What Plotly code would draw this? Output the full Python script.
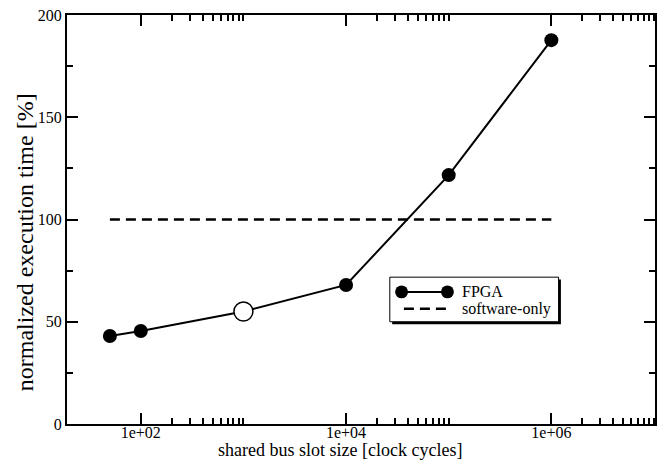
import plotly.graph_objects as go
import numpy as np

# data
slot_size = [50, 100, 1000, 10000, 100000, 1000000]
fpga_time = [43, 45.5, 55, 68, 121.7, 187.7]
open_index = 2  # highlighted (open) point
sw_x = [50, 1000000]
sw_y = [100, 100]

major_ticks = [1e2, 1e4, 1e6]
major_labels = ["1e+02", "1e+04", "1e+06"]
minor_ticks = [n * 10 ** e for e in (2, 4, 6) for n in range(2, 11)]
y_ticks = [0, 50, 100, 150, 200]
y_minor = [25, 75, 125, 175]

FONT = "Liberation Serif"

fig = go.Figure()
fig.add_trace(go.Scatter(x=sw_x, y=sw_y, mode="lines",
                         line=dict(color="black", width=2.5, dash="10px,6px"),
                         showlegend=False, hoverinfo="skip"))
fig.add_trace(go.Scatter(x=slot_size, y=fpga_time, mode="lines",
                         line=dict(color="black", width=2),
                         showlegend=False, hoverinfo="skip"))
filled_x = [v for i, v in enumerate(slot_size) if i != open_index]
filled_y = [v for i, v in enumerate(fpga_time) if i != open_index]
fig.add_trace(go.Scatter(x=filled_x, y=filled_y, mode="markers",
                         marker=dict(color="black", size=14, line=dict(width=0)),
                         showlegend=False))
fig.add_trace(go.Scatter(x=[slot_size[open_index]], y=[fpga_time[open_index]],
                         mode="markers",
                         marker=dict(color="white", size=19, line=dict(color="black", width=1.5)),
                         showlegend=False))

axis_common = dict(showline=True, linecolor="black", linewidth=2, mirror="ticks",
                   ticks="inside", ticklen=11, tickwidth=1.5, tickcolor="black",
                   showgrid=False, zeroline=False,
                   tickfont=dict(family=FONT, size=16, color="black"))

fig.update_xaxes(type="log", range=[np.log10(19.1), 7.01],
                 tickmode="array", tickvals=major_ticks, ticktext=major_labels,
                 ticklabelstandoff=-7,
                 minor=dict(tickmode="array", tickvals=minor_ticks, ticks="inside",
                            ticklen=6, tickwidth=1.5, tickcolor="black", showgrid=False),
                 **axis_common)
fig.update_yaxes(range=[0, 200], tickmode="array", tickvals=y_ticks,
                 minor=dict(tickmode="array", tickvals=y_minor, ticks="inside",
                            ticklen=6, tickwidth=1.5, tickcolor="black", showgrid=False),
                 **axis_common)

# axis titles
fig.add_annotation(text="shared bus slot size [clock cycles]", xref="paper", yref="paper",
                   x=0.465, y=-0.093, xanchor="center", yanchor="bottom", showarrow=False,
                   font=dict(family=FONT, size=18, color="black"))
fig.add_annotation(text="normalized execution time [%]", xref="paper", yref="paper",
                   x=-0.071, y=0.445, xanchor="center", yanchor="middle", textangle=-90,
                   showarrow=False, font=dict(family=FONT, size=24, color="black"))

# legend box (drawn manually)
lx0, lx1, ly0, ly1 = 0.549, 0.836, 0.250, 0.359
fig.add_shape(type="rect", xref="paper", yref="paper", x0=lx0 + 0.004, x1=lx1 + 0.004,
              y0=ly0 - 0.006, y1=ly1 - 0.006, fillcolor="black", line=dict(width=0))
fig.add_shape(type="rect", xref="paper", yref="paper", x0=lx0, x1=lx1, y0=ly0, y1=ly1,
              fillcolor="white", line=dict(color="black", width=1))
ya, yb = 0.323, 0.282
fig.add_shape(type="line", xref="paper", yref="paper", x0=0.569, x1=0.647, y0=ya, y1=ya,
              line=dict(color="black", width=2))
for cx in (0.569, 0.647):
    r = 0.011
    fig.add_shape(type="circle", xref="paper", yref="paper", x0=cx - r, x1=cx + r,
                  y0=ya - r * 590 / 412, y1=ya + r * 590 / 412,
                  fillcolor="black", line=dict(width=0))
fig.add_shape(type="line", xref="paper", yref="paper", x0=0.573, x1=0.650, y0=yb, y1=yb,
              line=dict(color="black", width=2.5, dash="10px,6px"))
fig.add_annotation(text="FPGA", xref="paper", yref="paper", x=0.669, y=ya,
                   xanchor="left", yanchor="middle", showarrow=False,
                   font=dict(family=FONT, size=16, color="black"))
fig.add_annotation(text="software-only", xref="paper", yref="paper", x=0.669, y=yb,
                   xanchor="left", yanchor="middle", showarrow=False,
                   font=dict(family=FONT, size=16, color="black"))

fig.update_layout(width=664, height=466, margin=dict(l=67, r=7, t=12, b=42),
                  plot_bgcolor="white", paper_bgcolor="white", showlegend=False)

fig.write_html("out.html")
